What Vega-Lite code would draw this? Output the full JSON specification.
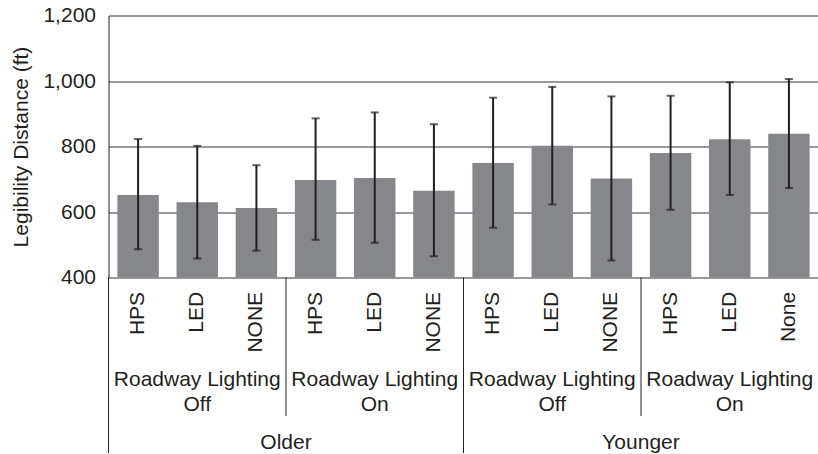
{
  "$schema": "https://vega.github.io/schema/vega-lite/v6.json",
  "background": "white",
  "padding": {"left": 10.5, "top": 4.5, "right": 0, "bottom": 0},
  "autosize": {"type": "pad"},
  "bounds": "flush",
  "spacing": 0,
  "config": {
    "view": {"stroke": null},
    "font": "Liberation Sans",
    "text": {"font": "Liberation Sans", "fontSize": 21, "color": "#231f20"}
  },
  "datasets": {
    "bars": [
      {"age": "Older", "lighting": "Off", "source": "HPS", "bar": "Older Off HPS", "mean": 652, "lo": 486, "hi": 823},
      {"age": "Older", "lighting": "Off", "source": "LED", "bar": "Older Off LED", "mean": 630, "lo": 458, "hi": 802},
      {"age": "Older", "lighting": "Off", "source": "NONE", "bar": "Older Off NONE", "mean": 612, "lo": 482, "hi": 743},
      {"age": "Older", "lighting": "On", "source": "HPS", "bar": "Older On HPS", "mean": 698, "lo": 515, "hi": 886},
      {"age": "Older", "lighting": "On", "source": "LED", "bar": "Older On LED", "mean": 704, "lo": 506, "hi": 904},
      {"age": "Older", "lighting": "On", "source": "NONE", "bar": "Older On NONE", "mean": 665, "lo": 465, "hi": 868},
      {"age": "Younger", "lighting": "Off", "source": "HPS", "bar": "Younger Off HPS", "mean": 750, "lo": 552, "hi": 949},
      {"age": "Younger", "lighting": "Off", "source": "LED", "bar": "Younger Off LED", "mean": 802, "lo": 623, "hi": 982},
      {"age": "Younger", "lighting": "Off", "source": "NONE", "bar": "Younger Off NONE", "mean": 702, "lo": 452, "hi": 953},
      {"age": "Younger", "lighting": "On", "source": "HPS", "bar": "Younger On HPS", "mean": 780, "lo": 607, "hi": 955},
      {"age": "Younger", "lighting": "On", "source": "LED", "bar": "Younger On LED", "mean": 822, "lo": 652, "hi": 996},
      {"age": "Younger", "lighting": "On", "source": "None", "bar": "Younger On None", "mean": 839, "lo": 673, "hi": 1006}
    ],
    "subgroups": [
      {"at": "Older Off LED", "line1": "Roadway Lighting", "line2": "Off"},
      {"at": "Older On LED", "line1": "Roadway Lighting", "line2": "On"},
      {"at": "Younger Off LED", "line1": "Roadway Lighting", "line2": "Off"},
      {"at": "Younger On LED", "line1": "Roadway Lighting", "line2": "On"}
    ],
    "ages": [
      {"at": "Older On HPS", "age": "Older"},
      {"at": "Younger On HPS", "age": "Younger"}
    ],
    "separators": [
      {"at": "Older Off HPS", "kind": "full"},
      {"at": "Younger Off HPS", "kind": "full"},
      {"at": "Older On HPS", "kind": "sub"},
      {"at": "Younger On HPS", "kind": "sub"}
    ]
  },
  "vconcat": [
    {
      "width": 710,
      "height": 262,
      "data": {"name": "bars"},
      "layer": [
        {
          "mark": {"type": "bar", "width": {"band": 0.7}, "color": "#86878a"},
          "encoding": {
            "x": {"field": "bar", "type": "nominal", "axis": null,
              "scale": {"domain": ["Older Off HPS","Older Off LED","Older Off NONE","Older On HPS","Older On LED","Older On NONE","Younger Off HPS","Younger Off LED","Younger Off NONE","Younger On HPS","Younger On LED","Younger On None"], "paddingInner": 0, "paddingOuter": 0}},
            "y": {"field": "mean", "type": "quantitative", "title": "Legibility Distance (ft)",
              "scale": {"domain": [400, 1200], "nice": false, "zero": false},
              "axis": {"values": [400, 600, 800, 1000, 1200], "format": ",d", "ticks": false, "labelPadding": 13,
                "labelFontSize": 21, "labelFont": "Liberation Sans", "labelColor": "#231f20",
                "titleFontSize": 21, "titleFont": "Liberation Sans", "titleFontWeight": "normal", "titleColor": "#231f20", "titlePadding": 11,
                "domainColor": "#231f20", "domainWidth": 1, "grid": true, "gridColor": "#333333", "gridWidth": 1, "gridOpacity": 1}},
            "y2": {"datum": 400}
          }
        },
        {
          "mark": {"type": "rule", "color": "#231f20", "strokeWidth": 2},
          "encoding": {
            "x": {"field": "bar", "type": "nominal"},
            "y": {"field": "lo", "type": "quantitative", "title": "Legibility Distance (ft)"},
            "y2": {"field": "hi"}
          }
        },
        {
          "mark": {"type": "tick", "color": "#231f20", "thickness": 2, "size": 8},
          "encoding": {
            "x": {"field": "bar", "type": "nominal"},
            "y": {"field": "lo", "type": "quantitative", "title": "Legibility Distance (ft)"}
          }
        },
        {
          "mark": {"type": "tick", "color": "#231f20", "thickness": 2, "size": 8},
          "encoding": {
            "x": {"field": "bar", "type": "nominal"},
            "y": {"field": "hi", "type": "quantitative", "title": "Legibility Distance (ft)"}
          }
        }
      ]
    },
    {
      "width": 710,
      "height": 175.5,
      "layer": [
        {
          "data": {"name": "bars"},
          "mark": {"type": "text", "angle": 270, "align": "right", "baseline": "middle", "fontSize": 21},
          "encoding": {
            "x": {"field": "bar", "type": "nominal", "axis": null,
              "scale": {"domain": ["Older Off HPS","Older Off LED","Older Off NONE","Older On HPS","Older On LED","Older On NONE","Younger Off HPS","Younger Off LED","Younger Off NONE","Younger On HPS","Younger On LED","Younger On None"], "paddingInner": 0, "paddingOuter": 0}},
            "y": {"datum": 14.4, "type": "quantitative", "axis": null, "scale": {"domain": [0, 175.5], "reverse": true, "nice": false, "zero": false}},
            "text": {"field": "source"}
          }
        },
        {
          "data": {"name": "subgroups"},
          "mark": {"type": "text", "align": "center", "baseline": "alphabetic", "fontSize": 21},
          "encoding": {
            "x": {"field": "at", "type": "nominal"},
            "y": {"datum": 108.4, "type": "quantitative"},
            "text": {"field": "line1"}
          }
        },
        {
          "data": {"name": "subgroups"},
          "mark": {"type": "text", "align": "center", "baseline": "alphabetic", "fontSize": 21},
          "encoding": {
            "x": {"field": "at", "type": "nominal"},
            "y": {"datum": 133.4, "type": "quantitative"},
            "text": {"field": "line2"}
          }
        },
        {
          "data": {"name": "ages"},
          "mark": {"type": "text", "align": "center", "baseline": "alphabetic", "fontSize": 21},
          "encoding": {
            "x": {"field": "at", "type": "nominal", "bandPosition": 0},
            "y": {"datum": 171.7, "type": "quantitative"},
            "text": {"field": "age"}
          }
        },
        {
          "data": {"name": "separators"},
          "transform": [{"filter": "datum.kind === 'full'"}],
          "mark": {"type": "rule", "color": "#231f20", "strokeWidth": 1},
          "encoding": {
            "x": {"field": "at", "type": "nominal", "bandPosition": 0},
            "y": {"datum": 0, "type": "quantitative"},
            "y2": {"datum": 175.5}
          }
        },
        {
          "data": {"name": "separators"},
          "transform": [{"filter": "datum.kind === 'sub'"}],
          "mark": {"type": "rule", "color": "#231f20", "strokeWidth": 1},
          "encoding": {
            "x": {"field": "at", "type": "nominal", "bandPosition": 0},
            "y": {"datum": 0, "type": "quantitative"},
            "y2": {"datum": 138.4}
          }
        }
      ]
    }
  ]
}
